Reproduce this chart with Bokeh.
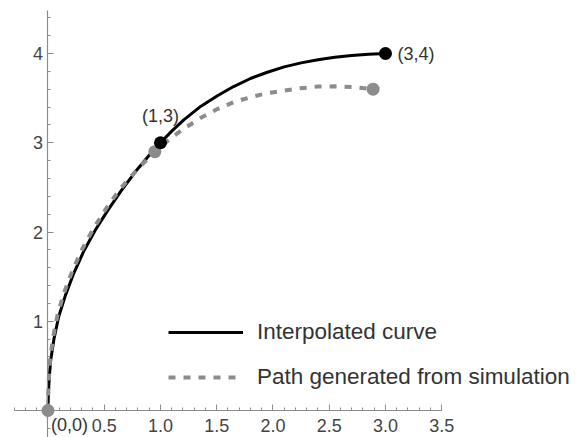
from bokeh.plotting import figure
from bokeh.models import Range1d, FixedTicker, Legend, LegendItem, Label
from bokeh.embed import file_html
from bokeh.resources import INLINE

# ---- data ----
interp_x = [0.0, 0.004, 0.012, 0.024, 0.053, 0.095, 0.155, 0.23, 0.32, 0.42, 0.53, 0.65, 0.78,
            0.90, 1.0, 1.10, 1.21, 1.36, 1.51, 1.65, 1.80, 1.95, 2.10, 2.25, 2.40, 2.55, 2.70,
            2.85, 3.0]
interp_y = [0.0, 0.20, 0.38, 0.56, 0.80, 1.05, 1.29, 1.54, 1.79, 2.02, 2.24, 2.46, 2.68,
            2.86, 3.0, 3.13, 3.26, 3.41, 3.53, 3.63, 3.72, 3.79, 3.85, 3.895, 3.93, 3.958, 3.978,
            3.993, 4.0]
sim_x = [0.0, 0.003, 0.010, 0.020, 0.045, 0.085, 0.14, 0.215, 0.305, 0.405, 0.515, 0.64,
         0.80, 0.95, 1.09, 1.21, 1.36, 1.51, 1.66, 1.83, 1.95, 2.10, 2.24, 2.40, 2.55, 2.70, 2.89]
sim_y = [0.0, 0.22, 0.40, 0.58, 0.82, 1.07, 1.31, 1.56, 1.81, 2.04, 2.26, 2.48,
         2.71, 2.90, 3.05, 3.16, 3.28, 3.38, 3.46, 3.52, 3.555, 3.585, 3.61, 3.63, 3.632, 3.625, 3.60]
knot_x = [1.0, 3.0]
knot_y = [3.0, 4.0]
sim_pt_x = [0.0, 0.95, 2.89]
sim_pt_y = [0.0, 2.90, 3.60]
point_labels = ["(1,3)", "(3,4)", "(0,0)"]
x_ticks = [0.5, 1.0, 1.5, 2.0, 2.5, 3.0, 3.5]
x_tick_labels = ["0.5", "1.0", "1.5", "2.0", "2.5", "3.0", "3.5"]
y_ticks = [1, 2, 3, 4]
y_tick_labels = ["1", "2", "3", "4"]
legend_labels = ["Interpolated curve", "Path generated from simulation"]

x_minor = [round(-0.3 + 0.1 * i, 2) for i in range(39)]
y_minor = [round(-0.2 + 0.2 * i, 2) for i in range(24)]

FONT = "Liberation Sans"

p = figure(width=586, height=437, output_backend="svg", toolbar_location=None,
           x_range=Range1d(-0.422, 4.787), y_range=Range1d(-0.3025, 4.594),
           min_border=0, min_border_left=0, min_border_right=0,
           min_border_top=0, min_border_bottom=0)
p.outline_line_color = None
p.grid.visible = False
p.background_fill_color = "white"
p.border_fill_color = "white"

for ax in (p.xaxis[0], p.yaxis[0]):
    ax.fixed_location = 0
    ax.axis_line_color = "#8c8c8c"
    ax.axis_line_width = 1.2
    ax.major_tick_line_color = "#8c8c8c"
    ax.minor_tick_line_color = "#8c8c8c"
    ax.major_tick_in = 6
    ax.major_tick_out = 0
    ax.minor_tick_in = 3
    ax.minor_tick_out = 0
    ax.major_label_text_font = FONT
    ax.major_label_text_font_size = "18px"
    ax.major_label_text_color = "#444444"

p.xaxis.bounds = (-0.3, 3.5)
p.yaxis.bounds = (-0.3, 4.48)
p.xaxis.ticker = FixedTicker(ticks=x_ticks, minor_ticks=x_minor)
p.yaxis.ticker = FixedTicker(ticks=y_ticks, minor_ticks=y_minor)
p.xaxis.major_label_overrides = dict(zip(x_ticks, x_tick_labels))
p.yaxis.major_label_overrides = dict(zip(y_ticks, y_tick_labels))
p.xaxis.major_label_standoff = 8
p.yaxis.major_label_standoff = 5

r_interp = p.line(interp_x, interp_y, line_color="black", line_width=3)
r_sim = p.line(sim_x, sim_y, line_color="#8c8c8c", line_width=4, line_dash="7 8")
p.scatter(sim_pt_x, sim_pt_y, size=13, fill_color="#8c8c8c", line_color=None)
p.scatter(knot_x, knot_y, size=13, fill_color="black", line_color=None)

pts = [(knot_x[0], knot_y[0], 0, 17, "center", "bottom"),
       (knot_x[1], knot_y[1], 12, 0, "left", "middle"),
       (sim_pt_x[0], sim_pt_y[0], 3, -4, "left", "top")]
for (x, y, xo, yo, ta, tb), txt in zip(pts, point_labels):
    p.add_layout(Label(x=x, y=y, x_offset=xo, y_offset=yo, text=txt,
                       text_align=ta, text_baseline=tb, text_font=FONT,
                       text_font_size="18px", text_color="#333333"))

legend = Legend(items=[LegendItem(label=legend_labels[0], renderers=[r_interp]),
                       LegendItem(label=legend_labels[1], renderers=[r_sim])],
                location=(168, 47), orientation="vertical",
                glyph_width=75, glyph_height=24, label_height=24,
                label_standoff=14, spacing=19, padding=0, margin=0,
                border_line_color=None, background_fill_alpha=0,
                label_text_font=FONT, label_text_font_size="22.5px",
                label_text_color="#333333")
p.add_layout(legend, "center")

open("out.html", "w").write(file_html(p, INLINE))
